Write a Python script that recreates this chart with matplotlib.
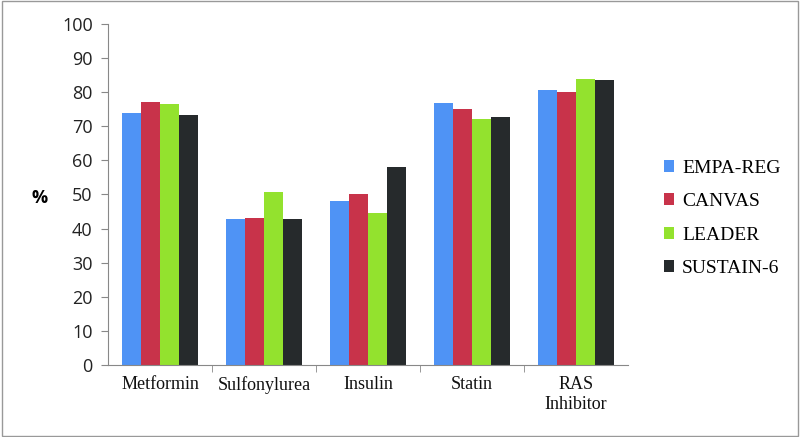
import matplotlib.pyplot as plt
import numpy as np
from matplotlib.patches import Rectangle

categories = ['Metformin', 'Sulfonylurea', 'Insulin', 'Statin', 'RAS\nInhibitor']
series = ['EMPA-REG', 'CANVAS', 'LEADER', 'SUSTAIN-6']
empa_reg = [73.8, 42.7, 48.1, 76.9, 80.6]
canvas = [77.2, 43.0, 50.0, 75.0, 80.1]
leader = [76.4, 50.6, 44.5, 72.1, 83.8]
sustain6 = [73.2, 42.7, 58.0, 72.7, 83.5]
yticks = list(range(0, 101, 10))

colors = ['#4F93F5', '#C8334A', '#93E22E', '#262A2C']
values = [empa_reg, canvas, leader, sustain6]

fig = plt.figure(figsize=(8, 4.37), dpi=100)
fig.patches.append(Rectangle((0.002, 0.003), 0.996, 0.994, transform=fig.transFigure,
                             fill=False, edgecolor='#999999', linewidth=1))
ax = fig.add_axes([0.135, 0.165, 0.65, 0.78])

x = np.arange(len(categories))
w = 0.182
for i, (name, vals) in enumerate(zip(series, values)):
    ax.bar(x + (i - 1.5) * w, vals, width=w, color=colors[i], label=name)

ax.set_xlim(-0.5, len(categories) - 0.5)
ax.set_ylim(0, 100)
ax.set_yticks(yticks)
ax.set_yticklabels([str(t) for t in yticks], family='Open Sans', fontsize=13, color='#222222')
ax.set_xticks(x)
ax.set_xticklabels(categories, family='Liberation Serif', fontsize=13, color='#111111')
ax.tick_params(axis='x', length=0, pad=8)
ax.set_xticks(np.arange(0.5, len(categories) - 0.5, 1), minor=True)
ax.tick_params(axis='x', which='minor', length=5, color='#888888')
ax.tick_params(axis='y', length=5, color='#888888', pad=6)

for s in ['top', 'right']:
    ax.spines[s].set_visible(False)
for s in ['left', 'bottom']:
    ax.spines[s].set_color('#888888')

fig.text(0.05, 0.548, '%', fontsize=13, fontweight='bold', family='Open Sans',
         ha='center', va='center')

ax.legend(loc='center left', bbox_to_anchor=(1.035, 0.43), frameon=False,
          prop={'family': 'Liberation Serif', 'size': 14},
          handlelength=0.55, handleheight=0.55, handletextpad=0.4, labelspacing=0.85)

fig.savefig('out.png', dpi=100)
